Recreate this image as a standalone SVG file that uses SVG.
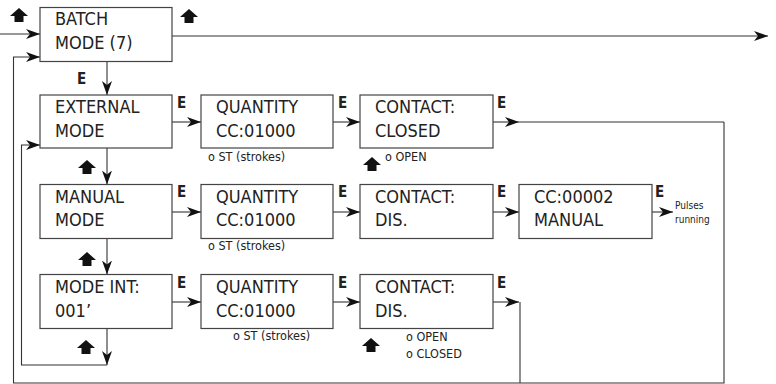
<svg xmlns="http://www.w3.org/2000/svg" width="776" height="384" viewBox="0 0 776 384">
<style>
.box{fill:#fff;stroke:#444;stroke-width:1.2}
.t{font-family:"DejaVu Sans Condensed","DejaVu Sans",sans-serif;font-stretch:condensed;font-size:18px;fill:#222}
.e{font-family:"DejaVu Sans Condensed","DejaVu Sans",sans-serif;font-stretch:condensed;font-weight:bold;font-size:15px;fill:#222}
.s{font-family:"DejaVu Sans Condensed","DejaVu Sans",sans-serif;font-stretch:condensed;font-size:12.5px;fill:#222}
.xs{font-family:"DejaVu Sans Condensed","DejaVu Sans",sans-serif;font-stretch:condensed;font-size:10px;fill:#222}
.ln{fill:none;stroke:#333;stroke-width:1.1}
.arr{fill:none;stroke:#333;stroke-width:1.1;marker-end:url(#ah)}
.up{fill:#111}
</style>
<defs>
<marker id="ah" markerUnits="userSpaceOnUse" markerWidth="15" markerHeight="11" refX="14" refY="5" orient="auto">
<path d="M0,0 L14,5 L0,10 L4,5 Z" fill="#111"/>
</marker>
<path id="upic" d="M9,0 L18,8 L13.5,8 L13.5,14 L4.5,14 L4.5,8 L0,8 Z"/>
</defs>

<g id="connectors">
<path class="arr" d="M0,34 L40,34"/>
<path class="arr" d="M172,36 L768,36"/>
<path class="arr" d="M107,61.5 L107,95"/>
<path class="arr" d="M107,148 L107,184.5"/>
<path class="arr" d="M107,238.5 L107,274.5"/>
<path class="arr" d="M107,328.5 L107,365"/>
<path class="arr" d="M107,365 L21.5,365 L21.5,145 L40,145"/>
<path class="arr" d="M724,122 L724,383 L13.5,383 L13.5,57 L40,57"/>
<path class="ln" d="M519,122 L724,122"/>
<path class="ln" d="M520,302 L520,383"/>
<path class="arr" d="M172,122 L201,122"/>
<path class="arr" d="M333,122 L360,122"/>
<path class="arr" d="M493,122 L519,122"/>
<path class="arr" d="M172,212 L201,212"/>
<path class="arr" d="M333,212 L360,212"/>
<path class="arr" d="M493,212 L519,212"/>
<path class="arr" d="M652,212 L673,212"/>
<path class="arr" d="M172,302 L201,302"/>
<path class="arr" d="M333,302 L360,302"/>
<path class="arr" d="M493,302 L519,302"/>
</g>

<g id="labels">
<text class="e" x="77" y="84">E</text>
<text class="e" x="177" y="108">E</text>
<text class="e" x="338" y="108">E</text>
<text class="e" x="497" y="108">E</text>
<text class="e" x="177" y="197">E</text>
<text class="e" x="338" y="197">E</text>
<text class="e" x="497" y="197">E</text>
<text class="e" x="655" y="197">E</text>
<text class="e" x="177" y="288">E</text>
<text class="e" x="338" y="288">E</text>
<text class="e" x="497" y="288">E</text>
<text class="s" x="208" y="161">o ST (strokes)</text>
<text class="s" x="208" y="250">o ST (strokes)</text>
<text class="s" x="233" y="340">o ST (strokes)</text>
<text class="s" x="385" y="161">o OPEN</text>
<text class="s" x="406" y="341">o OPEN</text>
<text class="s" x="406" y="358">o CLOSED</text>
<text class="xs" x="675" y="209">Pulses</text>
<text class="xs" x="675" y="223">running</text>
<use href="#upic" class="up" x="10" y="8"/>
<use href="#upic" class="up" x="180" y="9"/>
<use href="#upic" class="up" x="78" y="160"/>
<use href="#upic" class="up" x="363" y="157"/>
<use href="#upic" class="up" x="78" y="252"/>
<use href="#upic" class="up" x="77" y="340"/>
<use href="#upic" class="up" x="362" y="338"/>
</g>

<g id="batch"><rect class="box" x="40" y="7.5" width="132" height="54"/><text class="t" x="55" y="25">BATCH</text><text class="t" x="55" y="49">MODE (7)</text></g>

<g id="external"><rect class="box" x="40" y="95" width="132" height="53"/><text class="t" x="55" y="113">EXTERNAL</text><text class="t" x="55" y="137">MODE</text></g>
<g id="qty1"><rect class="box" x="201" y="95" width="132" height="53"/><text class="t" x="216" y="113">QUANTITY</text><text class="t" x="216" y="137">CC:01000</text></g>
<g id="contact1"><rect class="box" x="360" y="95" width="133" height="53"/><text class="t" x="375" y="113">CONTACT:</text><text class="t" x="375" y="137">CLOSED</text></g>

<g id="manual"><rect class="box" x="40" y="184.5" width="132" height="54"/><text class="t" x="55" y="203">MANUAL</text><text class="t" x="55" y="226">MODE</text></g>
<g id="qty2"><rect class="box" x="201" y="184.5" width="132" height="54"/><text class="t" x="216" y="203">QUANTITY</text><text class="t" x="216" y="226">CC:01000</text></g>
<g id="contact2"><rect class="box" x="360" y="184.5" width="133" height="54"/><text class="t" x="375" y="203">CONTACT:</text><text class="t" x="375" y="226">DIS.</text></g>
<g id="ccmanual"><rect class="box" x="519" y="184.5" width="133" height="54"/><text class="t" x="534" y="203">CC:00002</text><text class="t" x="534" y="226">MANUAL</text></g>

<g id="modeint"><rect class="box" x="40" y="274.5" width="132" height="54"/><text class="t" x="55" y="293">MODE INT:</text><text class="t" x="55" y="317">001’</text></g>
<g id="qty3"><rect class="box" x="201" y="274.5" width="132" height="54"/><text class="t" x="216" y="293">QUANTITY</text><text class="t" x="216" y="317">CC:01000</text></g>
<g id="contact3"><rect class="box" x="360" y="274.5" width="133" height="54"/><text class="t" x="375" y="293">CONTACT:</text><text class="t" x="375" y="317">DIS.</text></g>
</svg>
